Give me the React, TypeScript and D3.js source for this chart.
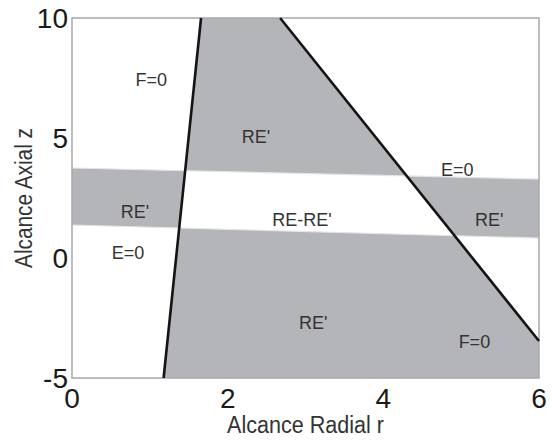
import React from "react";
import * as d3 from "d3";

const W = 552;
const H = 443;
const xDomain: [number, number] = [0, 6];
const yDomain: [number, number] = [-5, 10];
const xTicks = [0, 2, 4, 6];
const yTicks = [-5, 0, 5, 10];

// boundary lines (data coords: [r, z])
const lineF1: [number, number][] = [[1.658, 10], [1.177, -5]];
const lineF2: [number, number][] = [[2.674, 10], [6, -3.46]];
const lineEUpper: [number, number][] = [[0, 3.75], [6, 3.29]];
const lineELower: [number, number][] = [[0, 1.375], [6, 0.83]];

// shaded regions: constraint lines plus an interior reference point
const regions: { ref: [number, number]; lines: [number, number][][] }[] = [
  { ref: [2.5, 7], lines: [lineF1, lineF2, lineEUpper] },
  { ref: [0.5, 2.5], lines: [lineF1, lineEUpper, lineELower] },
  { ref: [5.6, 2], lines: [lineF2, lineEUpper, lineELower] },
  { ref: [3, -2], lines: [lineF1, lineF2, lineELower] },
];

const labelTexts = ["F=0", "RE'", "E=0", "RE'", "RE-RE'", "RE'", "E=0", "RE'", "F=0"];
const labelR = [1.018, 2.365, 4.95, 0.81, 2.955, 5.36, 0.72, 3.1, 5.17];
const labelZ = [7.15, 4.8, 3.4, 1.68, 1.33, 1.33, -0.05, -2.95, -3.75];

type P = [number, number];

function side(a: P, b: P, p: P) {
  return (b[0] - a[0]) * (p[1] - a[1]) - (b[1] - a[1]) * (p[0] - a[0]);
}

function clip(poly: P[], a: P, b: P, ref: P): P[] {
  const s = Math.sign(side(a, b, ref));
  const out: P[] = [];
  for (let i = 0; i < poly.length; i++) {
    const cur = poly[i];
    const prev = poly[(i + poly.length - 1) % poly.length];
    const fc = side(a, b, cur) * s;
    const fp = side(a, b, prev) * s;
    if (fc >= 0) {
      if (fp < 0) {
        const t = fp / (fp - fc);
        out.push([prev[0] + t * (cur[0] - prev[0]), prev[1] + t * (cur[1] - prev[1])]);
      }
      out.push(cur);
    } else if (fp >= 0) {
      const t = fp / (fp - fc);
      out.push([prev[0] + t * (cur[0] - prev[0]), prev[1] + t * (cur[1] - prev[1])]);
    }
  }
  return out;
}

export default function App() {
  const x = d3.scaleLinear().domain(xDomain).range([72, 539]);
  const y = d3.scaleLinear().domain(yDomain).range([378, 18]);
  const font = "'Liberation Sans', Arial, sans-serif";
  const line = d3
    .line<P>()
    .x((d) => x(d[0]))
    .y((d) => y(d[1]));

  const rect: P[] = [
    [xDomain[0], yDomain[0]],
    [xDomain[1], yDomain[0]],
    [xDomain[1], yDomain[1]],
    [xDomain[0], yDomain[1]],
  ];

  const polys = regions.map((rg) => {
    let poly = rect;
    rg.lines.forEach((l) => {
      poly = clip(poly, l[0], l[1], rg.ref);
    });
    return poly;
  });

  return (
    <svg
      width={W}
      height={H}
      style={{ position: "absolute", left: 0, top: 0, background: "#fff" }}
    >
      <rect x={0} y={0} width={W} height={H} fill="#fff" />
      {polys.map((p, i) => (
        <path key={i} d={line(p)! + "Z"} fill="#b4b5b8" stroke="none" />
      ))}
      {[lineEUpper, lineELower].map((l, i) => (
        <path key={"e" + i} d={line(l)!} stroke="#e4e4e6" strokeWidth={1.2} fill="none" />
      ))}
      <rect
        x={x(xDomain[0])}
        y={y(yDomain[1])}
        width={x(xDomain[1]) - x(xDomain[0])}
        height={y(yDomain[0]) - y(yDomain[1])}
        fill="none"
        stroke="#a8a8a8"
        strokeWidth={1.5}
      />
      {[lineF1, lineF2].map((l, i) => (
        <path key={"f" + i} d={line(l)!} stroke="#141414" strokeWidth={2.6} fill="none" />
      ))}
      {labelTexts.map((t, i) => (
        <text
          key={"l" + i}
          x={x(labelR[i])}
          y={y(labelZ[i])}
          textAnchor="middle"
          fontFamily={font}
          fontSize={18}
          fill="#333"
        >
          {t}
        </text>
      ))}
      {xTicks.map((t) => (
        <text
          key={"xt" + t}
          x={x(t)}
          y={408}
          textAnchor="middle"
          fontFamily={font}
          fontSize={28}
          fill="#1a1a1a"
        >
          {t}
        </text>
      ))}
      {yTicks.map((t) => (
        <text
          key={"yt" + t}
          x={68}
          y={y(t) + 10}
          textAnchor="end"
          fontFamily={font}
          fontSize={28}
          fill="#1a1a1a"
        >
          {t}
        </text>
      ))}
      <text
        x={(x(0) + x(6)) / 2}
        y={433}
        textAnchor="middle"
        fontFamily={font}
        fontSize={23}
        textLength={157}
        lengthAdjust="spacingAndGlyphs"
        fill="#333"
      >
        Alcance Radial r
      </text>
      <text
        transform={`translate(32, ${(y(-5) + y(10)) / 2}) rotate(-90)`}
        textAnchor="middle"
        fontFamily={font}
        fontSize={23}
        textLength={140}
        lengthAdjust="spacingAndGlyphs"
        fill="#333"
      >
        Alcance Axial z
      </text>
    </svg>
  );
}
